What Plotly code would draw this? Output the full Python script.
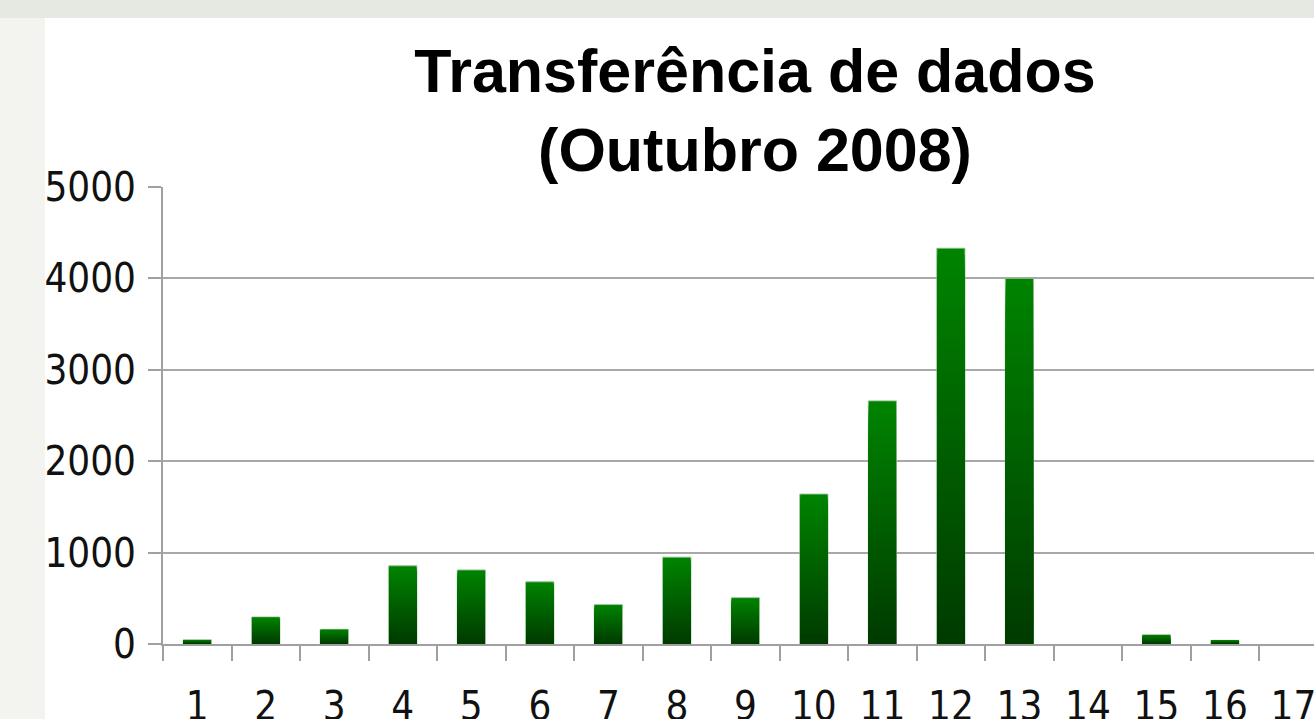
import plotly.graph_objects as go

days = [str(d) for d in range(1, 18)]
transfer = [45, 295, 160, 855, 810, 680, 430, 950, 505, 1640, 2660, 4330, 4000, 0, 100, 40, 0]
title_lines = ["Transferência de dados", "(Outubro 2008)"]
y_ticks = [0, 1000, 2000, 3000, 4000, 5000]

N_SEG = 60
top_rgb = (0, 132, 0)
bot_rgb = (0, 58, 0)

fig = go.Figure()
# nested bars from the baseline: each shorter bar drawn darker, on top -> vertical gradient
for k in range(N_SEG):
    frac = (N_SEG - k) / N_SEG
    t = (N_SEG - k - 0.5) / N_SEG
    c = tuple(round(bot_rgb[i] + (top_rgb[i] - bot_rgb[i]) * t) for i in range(3))
    if k == 0:
        line = dict(color=["rgba(140,190,140,0.9)" if v > 0 else "rgba(0,0,0,0)" for v in transfer], width=1)
    else:
        line = dict(width=0)
    fig.add_trace(go.Bar(
        x=days,
        y=[v * frac for v in transfer],
        width=0.41 if k == 0 else 0.41 - 0.012,
        marker=dict(color="rgb(%d,%d,%d)" % c, line=line),
        showlegend=False,
        hoverinfo="skip" if k else None,
        hovertemplate="%{x}: %{y}<extra></extra>" if k == 0 else None,
    ))

W, H = 1314, 719
L, R, T, B = 163, 0, 187, 75
pw, ph = W - L - R, H - T - B

def px_to_paper_x(px):
    return (px - L) / pw

def px_to_paper_y(py):
    return (H - B - py) / ph

shapes = [
    dict(type="rect", xref="paper", yref="paper", layer="below",
         x0=px_to_paper_x(0), x1=px_to_paper_x(W), y0=px_to_paper_y(18), y1=px_to_paper_y(0),
         fillcolor="#e6e8e2", line=dict(width=0)),
    dict(type="rect", xref="paper", yref="paper", layer="below",
         x0=px_to_paper_x(45), x1=px_to_paper_x(W), y0=px_to_paper_y(H), y1=px_to_paper_y(18),
         fillcolor="#ffffff", line=dict(width=0)),
]

tick_font = dict(family="DejaVu Sans Condensed, DejaVu Sans", size=40, color="#111111")

fig.update_layout(
    width=W, height=H,
    margin=dict(l=L, r=R, t=T, b=B, pad=0, autoexpand=False),
    paper_bgcolor="#f3f4f0",
    plot_bgcolor="rgba(0,0,0,0)",
    barmode="overlay",
    shapes=shapes,
    title=dict(
        text="<b>" + "<br>".join(title_lines) + "</b>",
        font=dict(family="Liberation Sans, Arial", size=61, color="#000000"),
        x=755 / W, xanchor="center", xref="container",
        y=1 - 92 / H, yanchor="top", yref="container",
    ),
    xaxis=dict(
        type="category",
        categoryorder="array", categoryarray=days,
        range=[-0.5, 16.3],
        automargin=False,
        showgrid=False,
        showline=True, linecolor="#a0a0a0", linewidth=2,
        ticks="outside", tickson="boundaries", ticklen=15, tickwidth=2, tickcolor="#a0a0a0",
        tickfont=tick_font,
        ticklabelstandoff=26,
    ),
    yaxis=dict(
        range=[0, 5000],
        tickvals=y_ticks,
        automargin=False,
        showgrid=True, gridcolor="#a8a8a8", gridwidth=2,
        showline=True, linecolor="#a0a0a0", linewidth=2,
        ticks="outside", ticklen=13, tickwidth=2, tickcolor="#a0a0a0",
        tickfont=tick_font,
        ticklabelstandoff=4,
        zeroline=False,
    ),
)

fig.write_html(
    "out.html",
    config={"displayModeBar": False},
    post_script="document.body.style.margin='0';document.body.style.overflow='hidden';",
)
